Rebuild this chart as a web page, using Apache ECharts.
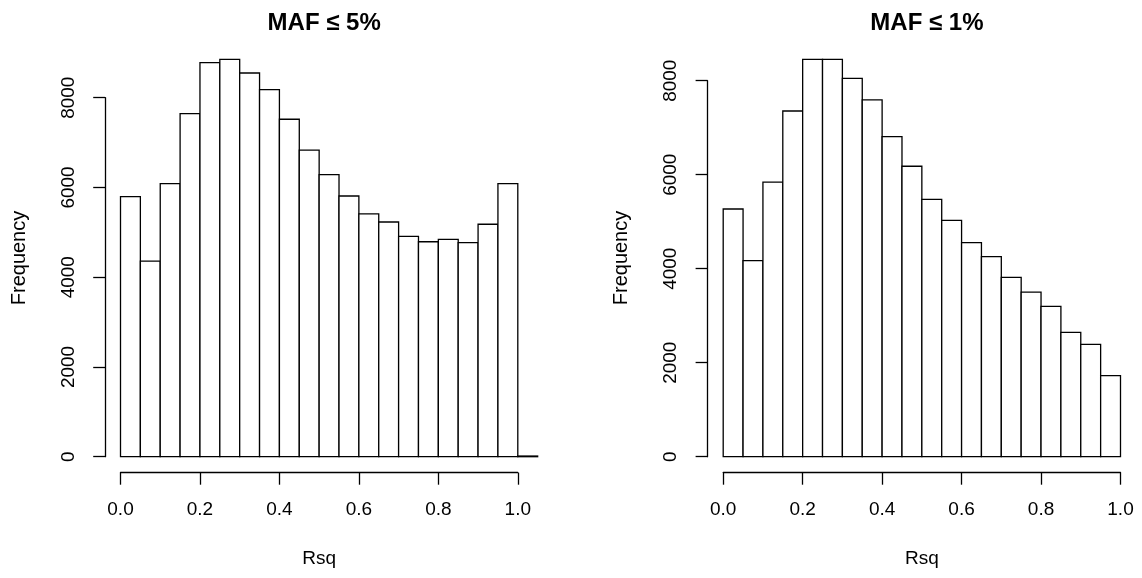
<!DOCTYPE html>
<html>
<head>
<meta charset="utf-8">
<script src="https://cdn.jsdelivr.net/npm/echarts@6/dist/echarts.min.js"></script>
<style>
html,body{margin:0;padding:0;background:#fff;}
#chart{width:1142px;height:578px;}
</style>
</head>
<body>
<div id="chart"></div>
<script>
// ---- data ----
const titles = ['MAF \u2264 5%', 'MAF \u2264 1%'];
const xTitle = 'Rsq';
const yTitle = 'Frequency';
const binStartsMaf5 = [0.00,0.05,0.10,0.15,0.20,0.25,0.30,0.35,0.40,0.45,0.50,0.55,0.60,0.65,0.70,0.75,0.80,0.85,0.90,0.95,1.00];
const binEndsMaf5   = [0.05,0.10,0.15,0.20,0.25,0.30,0.35,0.40,0.45,0.50,0.55,0.60,0.65,0.70,0.75,0.80,0.85,0.90,0.95,1.00,1.05];
const countsMaf5    = [5795,4360,6085,7645,8780,8855,8550,8180,7520,6830,6285,5810,5410,5230,4910,4790,4845,4770,5180,6085,15];
const binStartsMaf1 = [0.00,0.05,0.10,0.15,0.20,0.25,0.30,0.35,0.40,0.45,0.50,0.55,0.60,0.65,0.70,0.75,0.80,0.85,0.90,0.95];
const binEndsMaf1   = [0.05,0.10,0.15,0.20,0.25,0.30,0.35,0.40,0.45,0.50,0.55,0.60,0.65,0.70,0.75,0.80,0.85,0.90,0.95,1.00];
const countsMaf1    = [5270,4170,5840,7355,8455,8455,8050,7590,6810,6180,5475,5030,4555,4255,3815,3500,3200,2645,2390,1725];
const xTicks = [0, 0.2, 0.4, 0.6, 0.8, 1.0];
const yTicks = [0, 2000, 4000, 6000, 8000];

// ---- chart ----
const FONT = '"Liberation Sans", Arial, Helvetica, sans-serif';
const LINE = '#000';
const LW = 1.3;

function toData(starts, ends, counts) {
  return counts.map((c, i) => [starts[i], ends[i], c]);
}

function renderBar(params, api) {
  const x0 = api.value(0), x1 = api.value(1), v = api.value(2);
  const p0 = api.coord([x0, v]);
  const p1 = api.coord([x1, 0]);
  return {
    type: 'rect',
    shape: { x: p0[0], y: p0[1], width: p1[0] - p0[0], height: p1[1] - p0[1] },
    style: { fill: '#fff', stroke: LINE, lineWidth: LW }
  };
}

const grids = [
  { left: 120.5, top: 97.7, width: 397.3, height: 359 },
  { left: 723.2, top: 80.7, width: 397.3, height: 376 }
];

function xAxisFor(i) {
  return {
    gridIndex: i, type: 'value', position: 'bottom',
    min: xTicks[0], max: xTicks[xTicks.length - 1], interval: 0.2,
    offset: 16,
    name: xTitle, nameLocation: 'middle', nameGap: 77,
    nameTextStyle: { fontFamily: FONT, fontSize: 19, color: '#000' },
    axisLine: { show: true, onZero: false, lineStyle: { color: LINE, width: LW } },
    axisTick: { show: true, length: 12, lineStyle: { color: LINE, width: LW } },
    axisLabel: { show: true, margin: 28, fontFamily: FONT, fontSize: 19, color: '#000',
      formatter: v => v.toFixed(1) },
    splitLine: { show: false }
  };
}
function yAxisFor(i) {
  return {
    gridIndex: i, type: 'value', position: 'left',
    min: yTicks[0], max: yTicks[yTicks.length - 1], interval: 2000,
    offset: i === 0 ? 15.3 : 15.6,
    axisLine: { show: true, onZero: false, lineStyle: { color: LINE, width: LW } },
    axisTick: { show: true, length: 12, lineStyle: { color: LINE, width: LW } },
    axisLabel: { show: true, rotate: 90, margin: 27, fontFamily: FONT, fontSize: 19, color: '#000',
      formatter: v => String(v) },
    splitLine: { show: false }
  };
}

const option = {
  backgroundColor: '#fff',
  animation: false,
  title: [
    { text: titles[0], left: 319.2, top: 6, textAlign: 'center',
      textStyle: { fontFamily: FONT, fontSize: 24, fontWeight: 'bold', color: '#000' } },
    { text: titles[1], left: 921.9, top: 6, textAlign: 'center',
      textStyle: { fontFamily: FONT, fontSize: 24, fontWeight: 'bold', color: '#000' } }
  ],
  grid: grids,
  xAxis: [xAxisFor(0), xAxisFor(1)],
  yAxis: [yAxisFor(0), yAxisFor(1)],
  graphic: [
    { type: 'text', x: 19.7, y: 258, rotation: Math.PI / 2,
      style: { text: yTitle, font: '20px ' + FONT, fill: '#000', textAlign: 'center', textVerticalAlign: 'middle' } },
    { type: 'text', x: 621.7, y: 258, rotation: Math.PI / 2,
      style: { text: yTitle, font: '20px ' + FONT, fill: '#000', textAlign: 'center', textVerticalAlign: 'middle' } }
  ],
  series: [
    { type: 'custom', xAxisIndex: 0, yAxisIndex: 0, clip: false,
      encode: { x: [0, 1], y: 2 },
      data: toData(binStartsMaf5, binEndsMaf5, countsMaf5), renderItem: renderBar },
    { type: 'custom', xAxisIndex: 1, yAxisIndex: 1, clip: false,
      encode: { x: [0, 1], y: 2 },
      data: toData(binStartsMaf1, binEndsMaf1, countsMaf1), renderItem: renderBar }
  ]
};

const chart = echarts.init(document.getElementById('chart'), null, { renderer: 'canvas' });
chart.setOption(option);
</script>
</body>
</html>
